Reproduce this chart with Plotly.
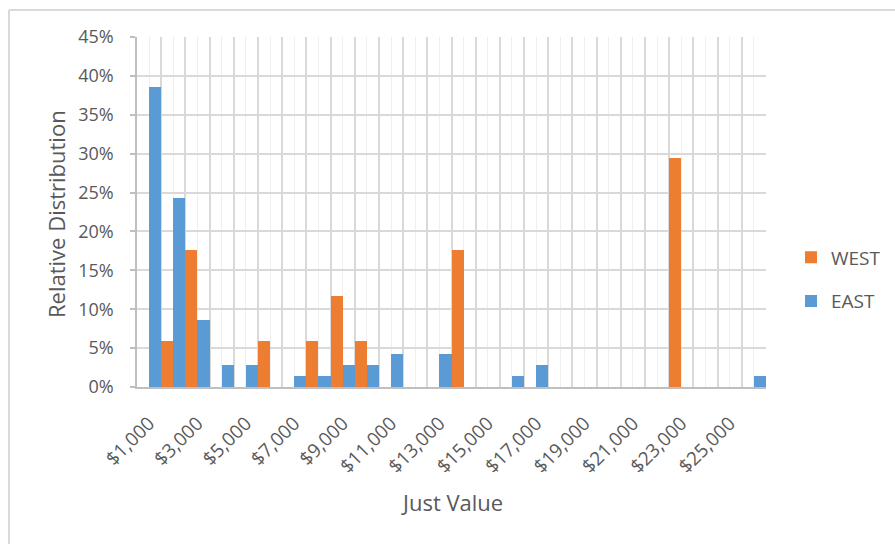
import plotly.graph_objects as go

# Just-value bins (dollars) and relative distribution per region
categories = [1000, 2000, 3000, 4000, 5000, 6000, 7000, 8000, 9000, 10000,
              11000, 12000, 13000, 14000, 15000, 16000, 17000, 18000, 19000,
              20000, 21000, 22000, 23000, 24000, 25000, 26000]
tick_labels = ["$1,000", "", "$3,000", "", "$5,000", "", "$7,000", "",
               "$9,000", "", "$11,000", "", "$13,000", "", "$15,000", "",
               "$17,000", "", "$19,000", "", "$21,000", "", "$23,000", "",
               "$25,000", ""]
west = [0, 0.0588, 0.1765, 0, 0, 0.0588, 0, 0.0588, 0.1176, 0.0588,
        0, 0, 0, 0.1765, 0, 0, 0, 0, 0, 0,
        0, 0, 0.2941, 0, 0, 0]
east = [0.3857, 0.2429, 0.0857, 0.0286, 0.0286, 0, 0.0143, 0.0143, 0.0286,
        0.0286, 0.0429, 0, 0.0429, 0, 0, 0.0143, 0.0286, 0, 0, 0, 0, 0, 0,
        0, 0, 0.0143]

FONT = "Open Sans"
TEXT = "#595959"
GRID = "#d9d9d9"
AXIS = "#bfbfbf"

W, H = 895, 544
ML, MR, MT, MB = 137, 129, 37, 157
PW, PH = W - ML - MR, H - MT - MB

fig = go.Figure()
fig.add_trace(go.Bar(name="WEST", x=categories, y=west,
                     marker=dict(color="#ED7D31", line=dict(width=0)),
                     legendgroup="w"))
fig.add_trace(go.Bar(name="EAST", x=categories, y=east,
                     marker=dict(color="#5B9BD5", line=dict(width=0)),
                     legendgroup="e"))


def px_x(x):
    return (x - ML) / PW


def px_y(y):
    return (H - MB - y) / PH


fig.update_layout(
    width=W, height=H,
    margin=dict(l=ML, r=MR, t=MT, b=MB, pad=0, autoexpand=False),
    paper_bgcolor="white", plot_bgcolor="white",
    barmode="group", bargap=0, bargroupgap=0,
    font=dict(family=FONT, color=TEXT, size=18),
    showlegend=True,
    legend=dict(x=px_x(791), xanchor="left", y=px_y(279.5), yanchor="middle",
                font=dict(family=FONT, size=19, color=TEXT),
                traceorder="grouped", tracegroupgap=16,
                bgcolor="rgba(0,0,0,0)"),
    xaxis=dict(
        range=[500, 26500], tickmode="array", tickvals=categories,
        ticktext=tick_labels, tickangle=-45, ticks="",
        tickfont=dict(family=FONT, size=19, color=TEXT),
        ticklabelstandoff=16,
        showgrid=True, gridcolor="#efefef", gridwidth=1,
        minor=dict(tickmode="linear", tick0=500, dtick=1000, showgrid=True,
                   gridcolor=GRID, gridwidth=1.5, ticks=""),
        showline=True, linecolor=AXIS, linewidth=1.5,
        zeroline=False, fixedrange=True,
    ),
    yaxis=dict(
        range=[0, 0.45], dtick=0.05, tick0=0, tickformat=".0%",
        tickfont=dict(family=FONT, size=18, color=TEXT),
        ticks="outside", ticklen=5, tickcolor=AXIS, tickwidth=1.5,
        ticklabelstandoff=13,
        showgrid=True, gridcolor=GRID, gridwidth=1.5,
        showline=True, linecolor=AXIS, linewidth=1.5,
        zeroline=False, fixedrange=True,
    ),
    annotations=[
        dict(text="Relative Distribution", xref="paper", yref="paper",
             x=px_x(56), y=px_y(214), textangle=-90, showarrow=False,
             xanchor="center", yanchor="middle",
             font=dict(family=FONT, size=22, color=TEXT)),
        dict(text="Just Value", xref="paper", yref="paper",
             x=px_x(451.5), y=px_y(502), showarrow=False,
             xanchor="center", yanchor="middle",
             font=dict(family=FONT, size=22, color=TEXT)),
    ],
    shapes=[
        # chart frame (top and left edges visible)
        dict(type="line", xref="paper", yref="paper",
             x0=px_x(9), x1=px_x(W), y0=px_y(10), y1=px_y(10),
             line=dict(color=GRID, width=2)),
        dict(type="line", xref="paper", yref="paper",
             x0=px_x(9), x1=px_x(9), y0=px_y(10), y1=px_y(H),
             line=dict(color=GRID, width=2)),
    ],
)

# keep the page exactly the size of the figure (no scrollbars)
page_css = (
    "document.documentElement.style.overflow='hidden';"
    "document.body.style.margin='0';"
    "document.body.style.overflow='hidden';"
)

fig.write_html("out.html", config=dict(displayModeBar=False),
               post_script=page_css)
